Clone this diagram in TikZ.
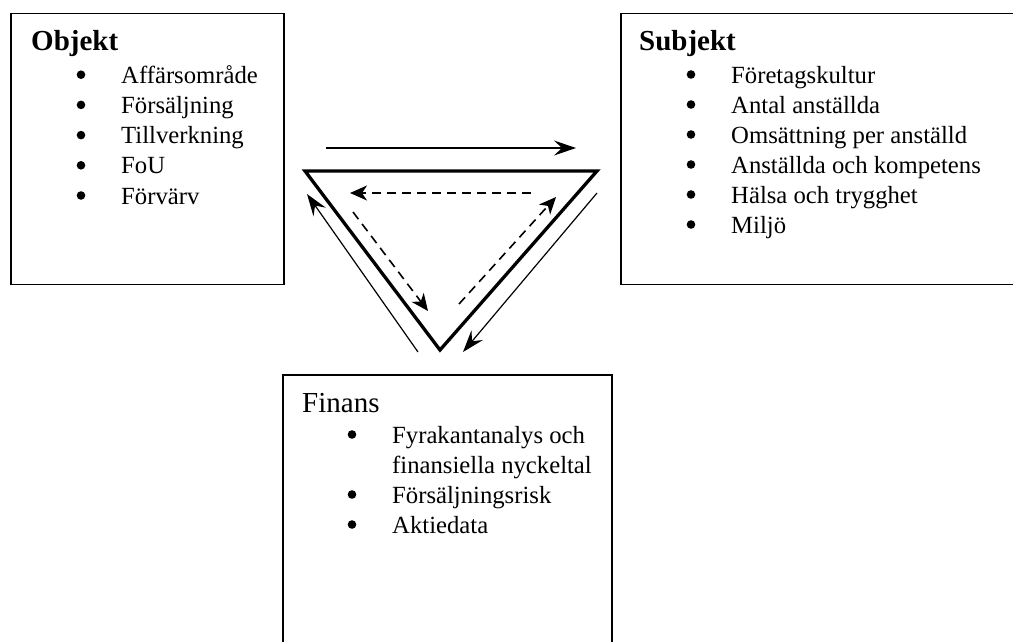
\documentclass[tikz,border=0pt]{standalone}
\usepackage{fontspec}
\setmainfont{Liberation Serif}
\usetikzlibrary{arrows.meta}
\begin{document}
\begin{tikzpicture}[x=1pt,y=-1pt,
  box/.style={draw,line width=1.6pt,inner sep=0pt,anchor=north west},
  title/.style={anchor=base west,inner sep=0pt,font=\fontsize{29}{34}\selectfont},
  entry/.style={anchor=base west,inner sep=0pt,font=\fontsize{24.7}{30}\selectfont},
  dot/.style={circle,fill,inner sep=0pt,minimum size=8.6pt},
  edge/.style={line width=3.3pt,line join=miter},
  flow/.style={line width=1.2pt,-{Stealth[length=22pt,width=15pt,inset=8pt]}},
  back/.style={line width=1.6pt,dash pattern=on 9pt off 6pt,
    -{Stealth[length=17pt,width=15pt,inset=5pt]}}]
\useasboundingbox (0,0) rectangle (1013,641);
\clip (0,0) rectangle (1013,641);

% the three boxes
\node[box,minimum width=273pt,minimum height=271pt] (objekt) at (10,12.5) {};
\node[box,minimum width=420pt,minimum height=271pt] (subjekt) at (620,12.5) {};
\node[box,minimum width=329pt,minimum height=300pt] (finans) at (282,374) {};

% Objekt
\node[title,font=\fontsize{29}{34}\selectfont\bfseries] (ot) at (31,50) {Objekt};
\foreach \t [count=\i] in {Affärsområde,Försäljning,Tillverkning,FoU,Förvärv}{
  \node[dot] (ob\i) at (81,{53+30.2*\i-8.5}) {};
  \node[entry] (oe\i) at (121,{53+30.2*\i}) {\t};
}

% Subjekt
\node[title,font=\fontsize{29}{34}\selectfont\bfseries] (st) at (639,50) {Subjekt};
\foreach \t [count=\i] in {Företagskultur,Antal anställda,Omsättning per anställd,
    Anställda och kompetens,Hälsa och trygghet,Miljö}{
  \node[dot] (sb\i) at (691,{53+30.0*\i-8.5}) {};
  \node[entry] (se\i) at (731,{53+30.0*\i}) {\t};
}

% Finans
\node[title] (ft) at (302,412) {Finans};
\node[dot] (fb1) at (352,434.5) {};
\node[entry] (fe1) at (392,443) {Fyrakantanalys och};
\node[entry] (fe1b) at (392,473) {finansiella nyckeltal};
\node[dot] (fb2) at (352,494.5) {};
\node[entry] (fe2) at (392,503) {Försäljningsrisk};
\node[dot] (fb3) at (352,524.5) {};
\node[entry] (fe3) at (392,533) {Aktiedata};

% triangle
\coordinate (tl) at (305,171);
\coordinate (tr) at (597,171);
\coordinate (bt) at (440,350);
\draw[edge] (tl) -- (tr) -- (bt) -- cycle;

% outer arrows
\coordinate (a1) at (326,148);  \coordinate (a2) at (576,148);
\coordinate (b1) at (597,193);  \coordinate (b2) at (463,352);
\coordinate (c1) at (418,352);  \coordinate (c2) at (307,194);
\draw[flow] (a1) -- (a2);
\draw[flow] (b1) -- (b2);
\draw[flow] (c1) -- (c2);

% inner dashed arrows
\coordinate (d1) at (531,193);  \coordinate (d2) at (350,193);
\coordinate (e1) at (353,212);  \coordinate (e2) at (428,311);
\coordinate (f1) at (459,304);  \coordinate (f2) at (556,197);
\draw[back] (d1) -- (d2);
\draw[back] (e1) -- (e2);
\draw[back] (f1) -- (f2);
\end{tikzpicture}
\end{document}
